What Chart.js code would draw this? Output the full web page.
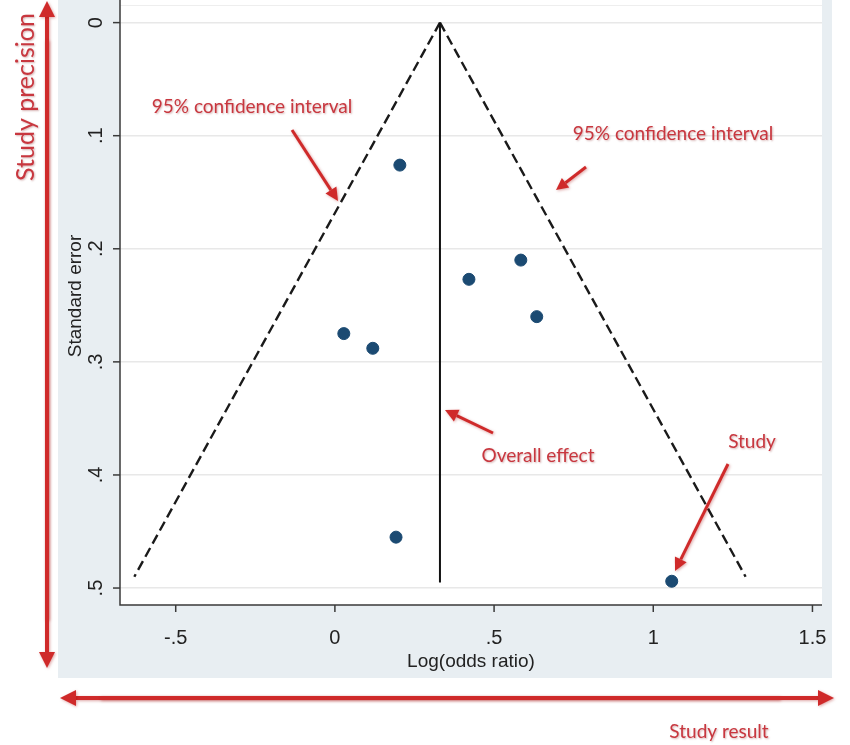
<!DOCTYPE html>
<html>
<head>
<meta charset="utf-8">
<script src="https://cdn.jsdelivr.net/npm/chart.js@4.4.1/dist/chart.umd.min.js"></script>
<style>
  body { margin: 0; background: #ffffff; }
  canvas { display: block; }
</style>
</head>
<body>
<canvas id="funnel" width="850" height="745"></canvas>
<script>
// studies: log odds ratio and standard error
const studyLogOR = [0.204, 0.584, 0.421, 0.634, 0.028, 0.119, 0.192, 1.058];
const studySE = [0.126, 0.210, 0.227, 0.260, 0.275, 0.288, 0.455, 0.494];

// overall effect line
const overallX = [0.33, 0.33];
const overallSE = [0, 0.495];

// 95% confidence limits of the funnel
const funnelSE = [0, 0.49];
const ciLowerX = [0.33, -0.63];
const ciUpperX = [0.33, 1.29];

const xTicks = [-0.5, 0, 0.5, 1, 1.5];
const yTicks = [0, 0.1, 0.2, 0.3, 0.4, 0.5];

const RED = '#cf2a2a';
const RED_TEXT = '#c8373f';

function stataLabel(v) {
    if (v === 0) return '0';
    return String(v).replace(/^(-?)0\./, '$1.');
}

function pairs(xs, ys) {
    return xs.map(function(x, i) { return {x: x, y: ys[i]}; });
}

function drawArrow(ctx, x1, y1, x2, y2, w, head) {
    var ang = Math.atan2(y2 - y1, x2 - x1);
    var hx = x2 - Math.cos(ang) * head;
    var hy = y2 - Math.sin(ang) * head;
    ctx.save();
    ctx.strokeStyle = RED;
    ctx.fillStyle = RED;
    ctx.shadowColor = 'rgba(160,0,0,0.35)';
    ctx.shadowBlur = 3;
    ctx.shadowOffsetX = 1;
    ctx.shadowOffsetY = 1;
    ctx.lineWidth = w;
    ctx.beginPath();
    ctx.moveTo(x1, y1);
    ctx.lineTo(hx, hy);
    ctx.stroke();
    ctx.beginPath();
    ctx.moveTo(x2, y2);
    ctx.lineTo(hx + Math.sin(ang) * head * 0.5, hy - Math.cos(ang) * head * 0.5);
    ctx.lineTo(hx - Math.sin(ang) * head * 0.5, hy + Math.cos(ang) * head * 0.5);
    ctx.closePath();
    ctx.fill();
    ctx.restore();
}

function redText(ctx, text, x, y, size, rot) {
    ctx.save();
    ctx.translate(x, y);
    if (rot) ctx.rotate(rot);
    ctx.font = size + 'px Lato';
    ctx.fillStyle = RED_TEXT;
    ctx.shadowColor = 'rgba(120,0,0,0.3)';
    ctx.shadowBlur = 2;
    ctx.shadowOffsetX = 1;
    ctx.shadowOffsetY = 1;
    ctx.textAlign = 'center';
    ctx.textBaseline = 'middle';
    ctx.fillText(text, 0, 0);
    ctx.restore();
}

const stataFrame = {
    id: 'stataFrame',
    beforeDraw: function(chart) {
        var ctx = chart.ctx, a = chart.chartArea;
        ctx.save();
        ctx.fillStyle = '#ffffff';
        ctx.fillRect(0, 0, chart.width, chart.height);
        ctx.fillStyle = '#e8eef2';
        ctx.fillRect(58, 0, 774, 678);
        ctx.fillStyle = '#ffffff';
        ctx.fillRect(a.left, a.top, a.right - a.left, a.bottom - a.top);
        // faint plot region outline at top
        ctx.strokeStyle = '#eeeeee';
        ctx.lineWidth = 1;
        ctx.beginPath();
        ctx.moveTo(a.left, a.top + 5.5);
        ctx.lineTo(a.right, a.top + 5.5);
        ctx.stroke();
        ctx.restore();
    },
    afterDraw: function(chart) {
        var ctx = chart.ctx, a = chart.chartArea;
        var xs = chart.scales.x, ys = chart.scales.y;
        ctx.save();
        // axes
        ctx.strokeStyle = '#3a3a3a';
        ctx.lineWidth = 1.5;
        ctx.beginPath();
        ctx.moveTo(a.left, a.top);
        ctx.lineTo(a.left, a.bottom);
        ctx.lineTo(a.right, a.bottom);
        ctx.stroke();

        ctx.fillStyle = '#222222';
        ctx.font = '20px "Liberation Sans"';
        ctx.textAlign = 'center';
        ctx.textBaseline = 'middle';
        xTicks.forEach(function(v) {
            var px = xs.getPixelForValue(v);
            ctx.beginPath();
            ctx.moveTo(px, a.bottom);
            ctx.lineTo(px, a.bottom + 7);
            ctx.stroke();
            ctx.fillText(stataLabel(v), px, a.bottom + 33);
        });
        yTicks.forEach(function(v) {
            var py = ys.getPixelForValue(v);
            ctx.beginPath();
            ctx.moveTo(a.left - 7, py);
            ctx.lineTo(a.left, py);
            ctx.stroke();
            ctx.save();
            ctx.translate(a.left - 24, py);
            ctx.rotate(-Math.PI / 2);
            ctx.fillText(stataLabel(v), 0, 0);
            ctx.restore();
        });

        // axis titles
        ctx.font = '19px "Liberation Sans"';
        ctx.fillText('Log(odds ratio)', (a.left + a.right) / 2, 662);
        ctx.save();
        ctx.translate(76, 296);
        ctx.rotate(-Math.PI / 2);
        ctx.fillText('Standard error', 0, 0);
        ctx.restore();
        ctx.restore();

        // annotations
        drawArrow(ctx, 47, 620, 47, 1, 4, 16);
        drawArrow(ctx, 47, 40, 47, 668, 4, 16);
        drawArrow(ctx, 780, 698, 60, 698, 4, 16);
        drawArrow(ctx, 100, 698, 834, 698, 4, 16);
        redText(ctx, 'Study precision', 26, 97, 25, -Math.PI / 2);
        redText(ctx, 'Study result', 719, 732, 19);

        drawArrow(ctx, 292, 130, 338, 201, 3, 13);
        redText(ctx, '95% confidence interval', 252, 107, 19);
        drawArrow(ctx, 586, 167, 556, 190, 3, 12);
        redText(ctx, '95% confidence interval', 673, 134, 19);
        drawArrow(ctx, 493, 433, 445, 410, 3, 13);
        redText(ctx, 'Overall effect', 538, 456, 19);
        drawArrow(ctx, 728, 464, 675, 571, 3, 13);
        redText(ctx, 'Study', 752, 442, 19);
    }
};

new Chart(document.getElementById('funnel'), {
    type: 'scatter',
    data: {
        datasets: [
            {
                label: 'Overall effect',
                data: pairs(overallX, overallSE),
                showLine: true,
                borderColor: '#111111',
                borderWidth: 2,
                pointRadius: 0
            },
            {
                label: 'Lower 95% CI',
                data: pairs(ciLowerX, funnelSE),
                showLine: true,
                borderColor: '#1a1a1a',
                borderWidth: 2.4,
                borderDash: [10, 5],
                pointRadius: 0
            },
            {
                label: 'Upper 95% CI',
                data: pairs(ciUpperX, funnelSE),
                showLine: true,
                borderColor: '#1a1a1a',
                borderWidth: 2.4,
                borderDash: [10, 5],
                pointRadius: 0
            },
            {
                label: 'Study',
                data: pairs(studyLogOR, studySE),
                backgroundColor: '#1b4a72',
                borderColor: '#1b4a72',
                pointRadius: 6
            }
        ]
    },
    options: {
        responsive: false,
        animation: false,
        layout: { autoPadding: false, padding: { left: 0, top: 0, right: 28, bottom: 0 } },
        plugins: {
            legend: { display: false },
            tooltip: { enabled: false }
        },
        scales: {
            x: {
                type: 'linear',
                min: -0.675,
                max: 1.53,
                grid: { display: false },
                border: { display: false },
                ticks: { display: false },
                afterFit: function(s) { s.height = 140; }
            },
            y: {
                type: 'linear',
                reverse: true,
                min: -0.02,
                max: 0.515,
                afterBuildTicks: function(s) {
                    s.ticks = yTicks.map(function(v) { return {value: v}; });
                },
                grid: { color: '#e8e8e8', lineWidth: 1.5, drawTicks: false },
                border: { display: false },
                ticks: { display: false },
                afterFit: function(s) { s.width = 120; }
            }
        }
    },
    plugins: [stataFrame]
});
</script>
</body>
</html>
